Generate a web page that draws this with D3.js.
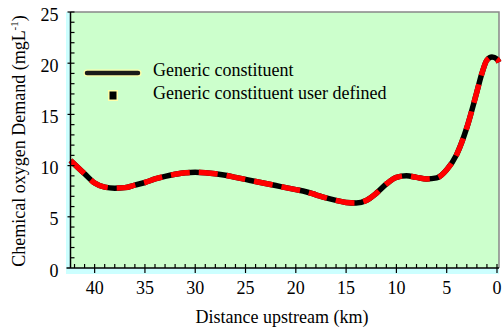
<!DOCTYPE html>
<html><head><meta charset="utf-8">
<script src="https://cdn.jsdelivr.net/npm/d3@7"></script>
<style>body{margin:0;background:#fff}svg{display:block}</style>
</head><body>
<svg id="c" width="502" height="331"></svg>
<script>
const distanceKm = [42.4,41,40,39,38,37,36,35,34,33,32,31,30,29,28,27,26,25,24,23,22,21,20,19,18,17,16,15,14,13,12,11,10,9,8,7,6,5,4,3,2,1.5,1,0.5,0,-0.2];
const codGeneric = [10.5,9.2,8.3,7.9,7.8,7.85,8.1,8.35,8.7,8.95,9.15,9.3,9.35,9.3,9.2,9.05,8.85,8.65,8.45,8.25,8.05,7.85,7.65,7.45,7.15,6.85,6.6,6.4,6.35,6.6,7.3,8.2,8.85,9.0,8.85,8.7,8.8,9.6,11.1,13.7,17.2,19.0,20.3,20.6,20.4,20.1];
const codUser = codGeneric.slice();
const xTicks = [40,35,30,25,20,15,10,5,0];
const yTicks = [0,5,10,15,20,25];
const seriesNames = ["Generic constituent","Generic constituent user defined"];

const FONT = '"Liberation Serif"';
const FS = 18;
const svg = d3.select("#c");
const L=70.5, R=499, T=12, B=268;
const x = d3.scaleLinear().domain([42.4,-0.2]).range([L,R]);
const y = d3.scaleLinear().domain([0,25]).range([B,T]);

svg.append("rect").attr("x",66).attr("y",T).attr("width",R-66).attr("height",274-T).attr("fill","#ccffff");
svg.append("rect").attr("x",L).attr("y",T).attr("width",R-L).attr("height",B-T).attr("fill","#ccffcc");
svg.append("path").attr("d",`M${L},${T}H${R}V${B}`).attr("fill","none").attr("stroke","#888").attr("stroke-width",1.5);

const line = d3.line().x((d,i)=>x(distanceKm[i])).y(d=>y(d)).curve(d3.curveMonotoneX);
const plot = svg.append("g");
plot.append("path").datum(codGeneric).attr("d",line).attr("fill","none").attr("stroke","#000").attr("stroke-width",5.5).attr("stroke-linejoin","round");
plot.append("path").datum(codUser).attr("d",line).attr("fill","none").attr("stroke","#ff0000").attr("stroke-width",5.5).attr("stroke-dasharray","19,9").attr("stroke-linecap","butt");

// axes
const ax = svg.append("g").attr("stroke","#000");
ax.append("line").attr("x1",L).attr("x2",L).attr("y1",T).attr("y2",B).attr("stroke-width",1.5);
ax.append("line").attr("x1",L-4).attr("x2",R).attr("y1",B).attr("y2",B).attr("stroke-width",1.5);
d3.range(1,26).forEach(v=>{
  const yy=y(v); const major=v%5===0;
  ax.append("line").attr("x1",major?L-3:L).attr("x2",L+4).attr("y1",yy).attr("y2",yy).attr("stroke-width",1.2);
});
d3.range(0,43).forEach(v=>{
  const xx=x(v); const major=v%5===0;
  ax.append("line").attr("x1",xx).attr("x2",xx).attr("y1",B-4).attr("y2",major?B+5:B).attr("stroke-width",1.2);
});
svg.append("g").selectAll("text").data(yTicks).join("text").style("font-family",FONT).style("font-size",FS+"px")
  .attr("x",L-12).attr("y",d=>y(d)+8.5).attr("text-anchor","end").text(d=>d);
svg.append("g").selectAll("text").data(xTicks).join("text").style("font-family",FONT).style("font-size",FS+"px")
  .attr("x",d=>x(d)).attr("y",294).attr("text-anchor","middle").text(d=>d);

svg.append("text").style("font-family",FONT).style("font-size",FS+"px").attr("x",282).attr("y",323).attr("text-anchor","middle").text("Distance upstream (km)");
const yt = svg.append("text").style("font-family",FONT).style("font-size",FS+"px").attr("transform","translate(25,141) rotate(-90)").attr("text-anchor","middle");
yt.append("tspan").text("Chemical oxygen Demand (mgL");
yt.append("tspan").style("font-size","11px").attr("dy",-7).text("-1");
yt.append("tspan").attr("dy",7).text(")");

// legend
const lg = svg.append("g");
lg.append("line").attr("x1",87).attr("x2",138).attr("y1",73).attr("y2",73).attr("stroke","#ffffaa").attr("stroke-width",7).attr("stroke-linecap","round");
lg.append("line").attr("x1",87).attr("x2",138).attr("y1",73).attr("y2",73).attr("stroke","#1a1a1a").attr("stroke-width",4.5).attr("stroke-linecap","round");
lg.append("rect").attr("x",108).attr("y",90).attr("width",10).attr("height",11).attr("fill","#ffffaa");
lg.append("rect").attr("x",109.5).attr("y",91.5).attr("width",7).attr("height",8).attr("fill","#000");
lg.selectAll("text.l").data(seriesNames).join("text").attr("class","l").style("font-family",FONT).style("font-size",FS+"px")
  .attr("x",153).attr("y",(d,i)=>76+i*23).text(d=>d);
</script>
</body></html>
